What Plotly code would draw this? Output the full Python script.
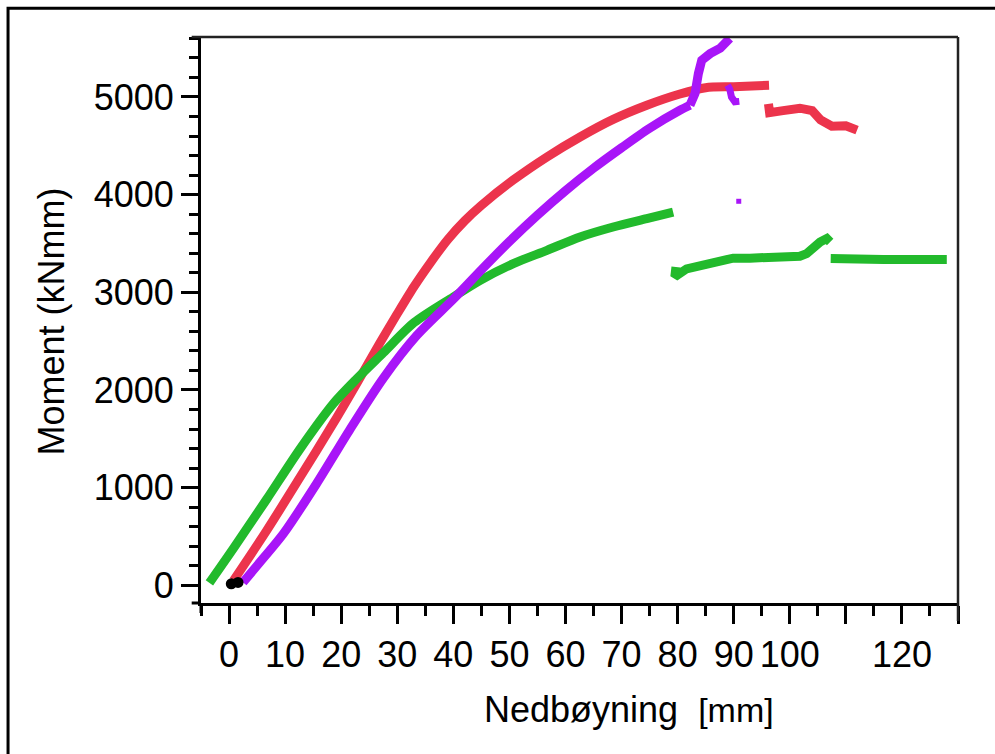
import plotly.graph_objects as go

# Moment-deflection curves, deflection in mm, moment in kNmm
green_a_x = [-3.5, 0.8, 6.7, 12.7, 18.6, 22.8, 27.5, 33.0, 40.0, 44.8, 50.7, 56.7, 62.6, 68.5, 74.5, 79.2]
green_a_y = [25, 380, 880, 1400, 1860, 2116, 2380, 2690, 2952, 3123, 3294, 3430, 3567, 3669, 3755, 3822]
green_b_x = [79.7, 79.5, 81.6, 84.0, 87.0, 89.9, 92.9, 95.9, 99.4, 101.8, 103.0, 104.2, 105.4, 106.6, 107.2]
green_b_y = [3260, 3160, 3240, 3277, 3328, 3350, 3350, 3352, 3360, 3369, 3396, 3464, 3515, 3550, 3515]
green_c_x = [107.3, 110.7, 116.7, 122.6, 128.0]
green_c_y = [3345, 3335, 3335, 3335, 3335]

red_a_x = [0.8, 6.7, 12.7, 18.6, 22.8, 26.9, 30.0, 33.0, 36.0, 39.0, 42.0, 45.0, 50.7, 56.7,
           62.6, 68.5, 74.5, 80.4, 85.0, 90.0, 96.3]
red_a_y = [50, 560, 1110, 1660, 2070, 2480, 2780, 3060, 3310, 3540, 3730, 3890, 4150, 4386,
           4590, 4770, 4915, 5030, 5095, 5105, 5120]
red_b_x = [96.2, 96.4, 98.8, 101.8, 104.0, 105.5, 107.5, 110.0, 112.0]
red_b_y = [4930, 4840, 4860, 4885, 4860, 4765, 4700, 4705, 4660]

purple_a_x = [2.5, 6.0, 9.7, 15.6, 21.6, 27.5, 33.5, 40.0, 45.0, 50.0, 55.0, 60.0, 65.0,
              70.0, 75.0, 80.4, 82.2]
purple_a_y = [30, 270, 529, 1040, 1600, 2120, 2560, 2930, 3230, 3520, 3790, 4040, 4270,
              4480, 4680, 4864, 4915]
purple_rise_x = [82.2, 83.1, 83.7, 84.3, 85.8, 87.6, 89.3]
purple_rise_y = [4915, 5035, 5240, 5376, 5444, 5500, 5600]
purple_b_x = [88.9, 89.3, 89.6, 90.2, 91.0]
purple_b_y = [5120, 5080, 5000, 4950, 4955]
purple_dot_x = [90.9]
purple_dot_y = [3932]

black_x = [0.4, 1.6]
black_y = [15, 30]

x_ticks = [0, 10, 20, 30, 40, 50, 60, 70, 80, 90, 100, 110, 120, 130]
x_tick_labels = ["0", "10", "20", "30", "40", "50", "60", "70", "80", "90", "100", "", "120", ""]
y_ticks = [0, 1000, 2000, 3000, 4000, 5000]
y_tick_labels = ["0", "1000", "2000", "3000", "4000", "5000"]

RED = "#EC344C"
GREEN = "#22BA2C"
PURPLE = "#A815F8"
BLACK = "#000000"

fig = go.Figure()

def band(x, y, color, width=9, shape="spline"):
    fig.add_trace(go.Scatter(x=x, y=y, mode="lines",
                             line=dict(color=color, width=width, shape=shape, smoothing=0.8),
                             hoverinfo="skip"))

band(red_a_x, red_a_y, RED)
band(red_b_x, red_b_y, RED, shape="linear")
band(green_a_x, green_a_y, GREEN)
band(green_b_x, green_b_y, GREEN, shape="linear")
band(green_c_x, green_c_y, GREEN, shape="linear")
band(purple_a_x, purple_a_y, PURPLE)
band(purple_rise_x, purple_rise_y, PURPLE, shape="linear")
band(purple_b_x, purple_b_y, PURPLE, 7, shape="linear")
fig.add_trace(go.Scatter(x=purple_dot_x, y=purple_dot_y, mode="markers",
                         marker=dict(color=PURPLE, size=5, symbol="square"),
                         hoverinfo="skip"))
fig.add_trace(go.Scatter(x=black_x, y=black_y, mode="markers",
                         marker=dict(color=BLACK, size=11, symbol="circle"),
                         hoverinfo="skip"))

fig.update_layout(
    width=995, height=754,
    margin=dict(l=201, r=37, t=37, b=151),
    paper_bgcolor="white", plot_bgcolor="white",
    showlegend=False,
    font=dict(family="Liberation Sans, Arial, sans-serif", color="black"),
)

fig.update_xaxes(
    range=[-5, 130], tickmode="array", tickvals=x_ticks, ticktext=x_tick_labels,
    ticks="outside", ticklen=18, tickwidth=2.5, tickcolor="black",
    showline=True, linewidth=3, linecolor="black",
    showgrid=False, zeroline=False, tickfont=dict(size=36),
    minor=dict(tickmode="linear", tick0=0, dtick=5, ticks="outside",
               ticklen=10, tickwidth=2.5, tickcolor="black", showgrid=False),
)
fig.update_yaxes(
    range=[-181, 5614], tickmode="array", tickvals=y_ticks, ticktext=y_tick_labels,
    ticks="outside", ticklen=17, tickwidth=2.5, tickcolor="black",
    showline=True, linewidth=3, linecolor="black",
    showgrid=False, zeroline=False, tickfont=dict(size=36),
    minor=dict(tickmode="linear", tick0=0, dtick=200, ticks="outside",
               ticklen=9, tickwidth=2.5, tickcolor="black", showgrid=False),
)

# plot frame (top/right) and outer border
fig.add_shape(type="line", xref="paper", yref="paper", x0=-0.0123, x1=1, y0=1, y1=1,
              line=dict(color="#222222", width=2.5))
fig.add_shape(type="line", xref="paper", yref="paper", x0=1, x1=1, y0=1, y1=-0.032,
              line=dict(color="#222222", width=2.5))
fig.add_shape(type="line", xref="paper", yref="paper", x0=-0.0123, x1=0, y0=0, y1=0,
              line=dict(color="black", width=3))
fig.add_shape(type="line", xref="paper", yref="paper", x0=0, x1=0, y0=0, y1=-0.0177,
              line=dict(color="black", width=3))
fig.add_shape(type="rect", xref="paper", yref="paper", x0=-0.2549, x1=1.07, y0=1.0507, y1=-0.3,
              line=dict(color="black", width=3))

fig.add_annotation(
    xref="paper", yref="paper", x=0.566, y=-0.188, xanchor="center", yanchor="middle",
    text="Nedbøyning  <span style='font-size:34px'>[mm]</span>",
    showarrow=False, font=dict(size=36, color="black"),
)
fig.add_annotation(
    xref="paper", yref="paper", x=-0.197, y=0.497, xanchor="center", yanchor="middle",
    text="Moment (kNmm)", textangle=-90,
    showarrow=False, font=dict(size=36, color="black"),
)

fig.write_html("out.html")
